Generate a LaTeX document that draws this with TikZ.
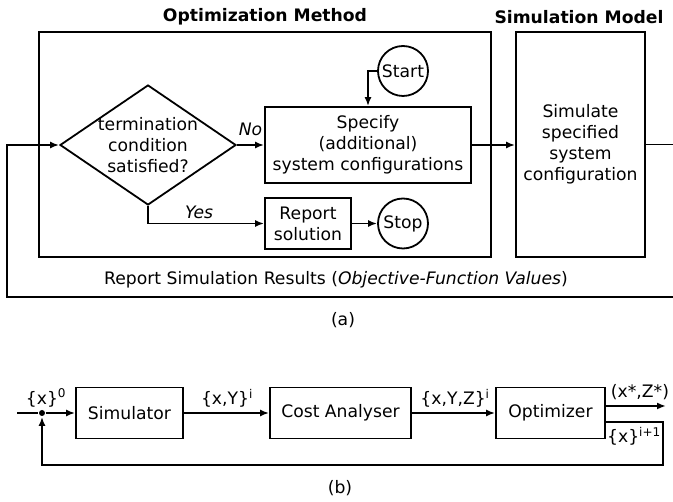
\documentclass[tikz,border=0pt]{standalone}
\usepackage{fontspec}
\setmainfont{DejaVu Sans}
\usetikzlibrary{positioning}
\usetikzlibrary{shapes.geometric}
\usetikzlibrary{arrows.meta}

\begin{document}
\begin{tikzpicture}[font=\fontsize{17.2}{21}\selectfont, line width=1.8pt,
  >={Latex[length=9pt,width=7pt]},
  box/.style={draw, rectangle, inner sep=0pt, align=center},
  term/.style={draw, circle, minimum size=50pt, inner sep=0pt},
  txt/.style={inner sep=0pt, align=center},
  title/.style={inner sep=0pt, font=\fontsize{17.2}{21}\selectfont\bfseries}]
\useasboundingbox (0pt,0pt) rectangle (673pt,-502pt);
% (a) optimization loop
\node (opttitle) [title] at (265pt,-17pt) {Optimization Method};
\node (simtitle) [title] at (579pt,-17pt) {Simulation Model};
\node (opt) [box, minimum width=452pt, minimum height=225pt] at (265pt,-144.5pt) {};
\node (sim) [box, minimum width=129pt, minimum height=225pt] at (580.5pt,-144.5pt) {Simulate\\specified\\system\\configuration};
\node (decide) [draw, diamond, minimum width=176pt, minimum height=120pt, inner sep=0pt, label={[txt]center:termination\\condition\\satisfied?}] at (148pt,-145pt) {};
\node (spec) [box, minimum width=206pt, minimum height=76pt] at (368pt,-145pt) {Specify\\(additional)\\system configurations};
\node (start) [term] at (403pt,-71pt) {Start};
\node (report) [box, minimum width=86pt, minimum height=51pt] at (308pt,-223.5pt) {Report\\solution};
\node (stop) [term] at (403pt,-223.5pt) {Stop};
\node (results) [txt] at (336pt,-280pt) {Report Simulation Results (\textit{Objective-Function Values})};
\node (capa) [txt] at (343pt,-320pt) {(a)};
\coordinate (fbturn) at (7pt,-297pt);
\draw [->] (start.west) -| (spec.north);
\draw [->] (decide.east) -- node (nolbl) [above=8pt, inner sep=0pt] {\textit{No}} (spec.west);
\draw [->] (decide.south) |- node (yeslbl) [pos=0.72, above=4pt, inner sep=0pt] {\textit{Yes}} (report.west);
\draw [->] (report.east) -- (stop.west);
\draw [->] (spec.east) -- (spec.east -| sim.west);
\draw [->] (sim.east) -- ++(40pt,0pt) |- (fbturn) |- (decide.west);
% (b) simulation based optimization
\coordinate (inb) at (17pt,-413pt);
\coordinate (outb) at (666pt,-406pt);
\coordinate (fbb) at (663pt,-465pt);
\node (x0dot) [circle, fill, inner sep=0pt, minimum size=6pt] at (42pt,-413pt) {};
\node (simu) [box, minimum width=107pt, minimum height=51pt] at (129.5pt,-413pt) {Simulator};
\node (cost) [box, minimum width=141pt, minimum height=51pt] at (340.5pt,-413pt) {Cost Analyser};
\node (optim) [box, minimum width=109pt, minimum height=51pt] at (550.5pt,-413pt) {Optimizer};
\node (x0) [txt] at (46pt,-398pt) {\{x\}\textsuperscript{0}};
\node (xy) [txt] at (227pt,-398pt) {\{x,Y\}\textsuperscript{i}};
\node (xyz) [txt] at (455pt,-398pt) {\{x,Y,Z\}\textsuperscript{i}};
\node (best) [txt] at (640pt,-392pt) {(x*,Z*)};
\node (xnext) [txt] at (634pt,-436pt) {\{x\}\textsuperscript{i+1}};
\node (capb) [txt] at (340pt,-488pt) {(b)};
\draw (inb) -- (x0dot);
\draw [->] (x0dot) -- (simu);
\draw [->] (simu) -- (cost);
\draw [->] (cost) -- (optim);
\draw [->] ([yshift=7pt]optim.east) -- (outb);
\draw [->] ([yshift=-9pt]optim.east) -| (fbb) -| (x0dot);
\end{tikzpicture}
\end{document}
